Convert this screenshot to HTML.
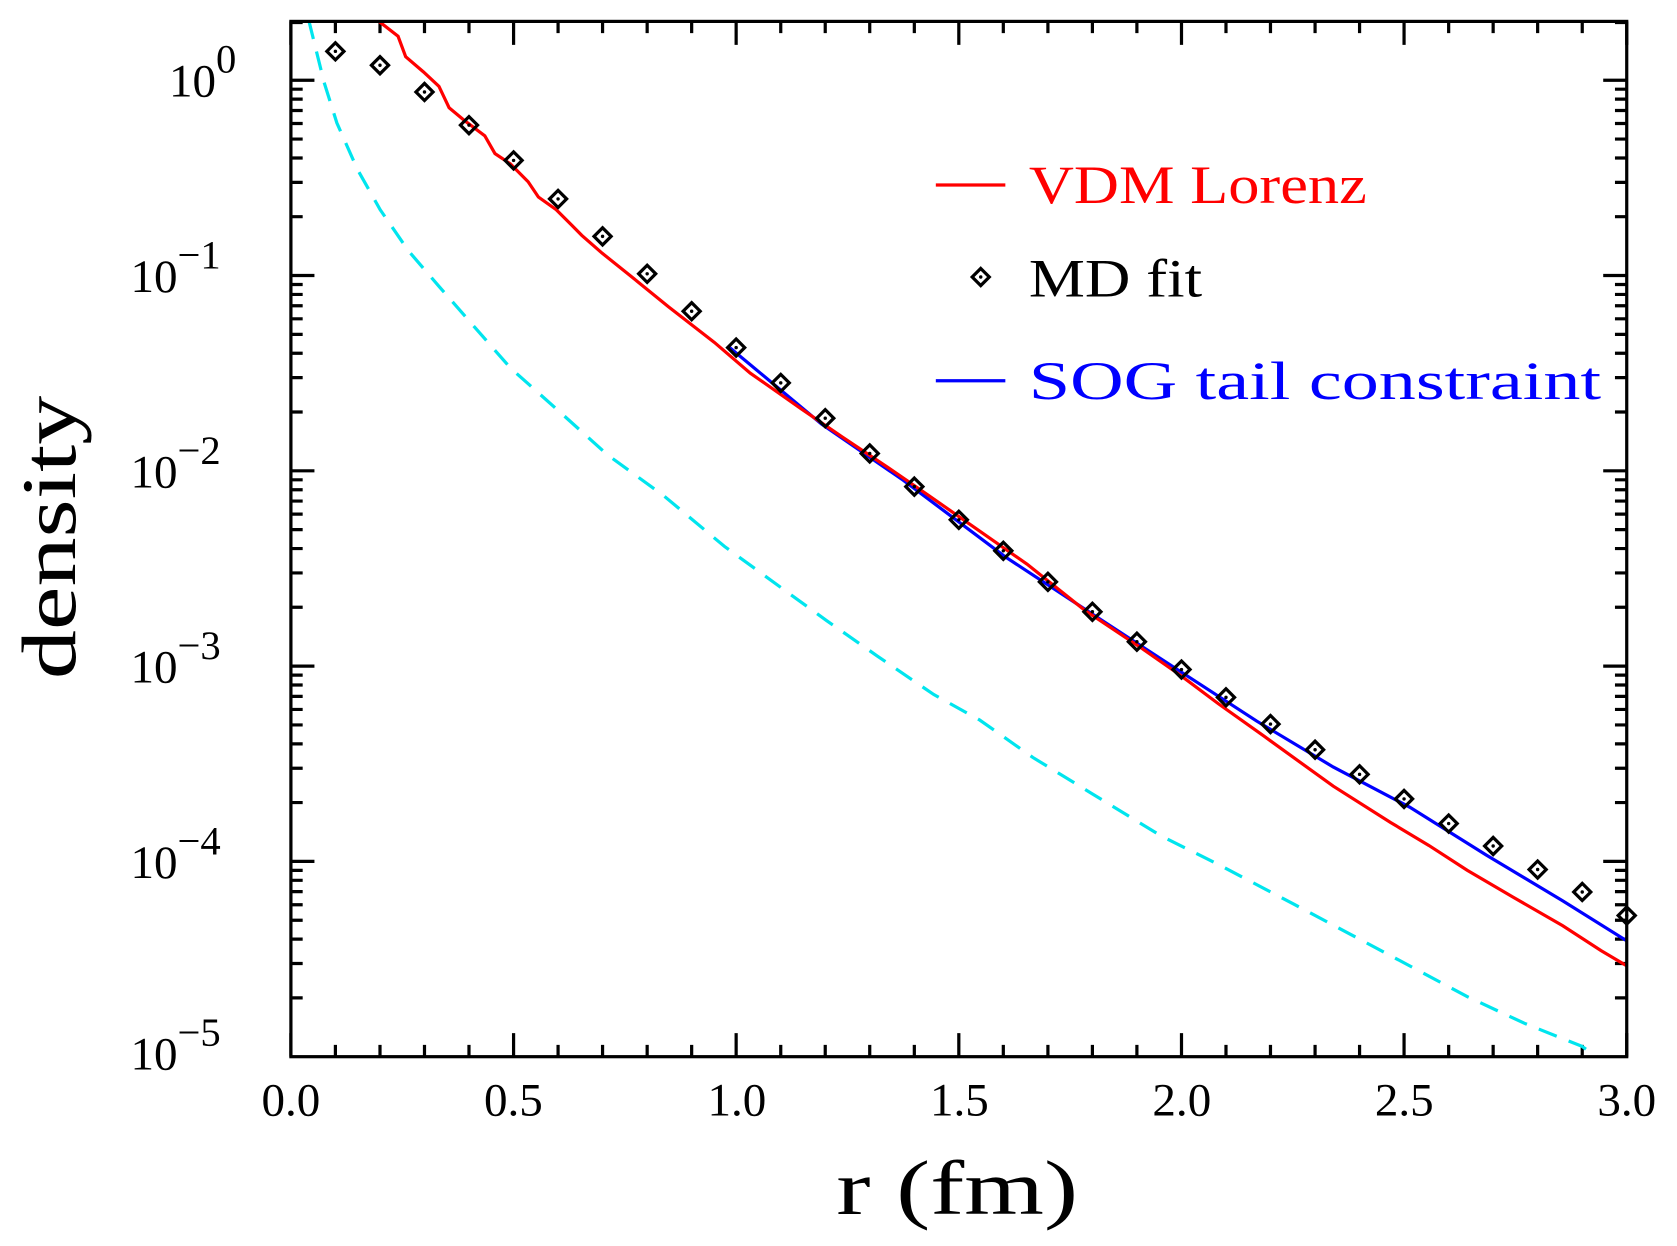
<!DOCTYPE html>
<html><head><style>html,body{margin:0;padding:0;background:#fff}svg{display:block}</style></head>
<body>
<svg width="1677" height="1246" viewBox="0 0 1568 1165" xmlns="http://www.w3.org/2000/svg" font-family="Liberation Serif, serif">
<defs>
<clipPath id="c"><rect x="272" y="20" width="1249" height="968"/></clipPath>
<g id="d"><path d="M0,-8 L8,0 L0,8 L-8,0Z" stroke="#000" stroke-width="3" fill="none"/><circle r="1.6" fill="#000"/></g>
</defs>
<path stroke="#000" stroke-width="3" fill="none" d="
M272,988v-22M313.6,988v-11M355.3,988v-11M396.9,988v-11M438.5,988v-11M480.2,988v-22M521.8,988v-11M563.4,988v-11M605.1,988v-11M646.7,988v-11M688.3,988v-22M730,988v-11M771.6,988v-11M813.2,988v-11M854.9,988v-11M896.5,988v-22M938.1,988v-11M979.8,988v-11M1021.4,988v-11M1063,988v-11M1104.7,988v-22M1146.3,988v-11M1187.9,988v-11M1229.6,988v-11M1271.2,988v-11M1312.8,988v-22M1354.5,988v-11M1396.1,988v-11M1437.7,988v-11M1479.4,988v-11M1521,988v-22
M272,20v22M313.6,20v11M355.3,20v11M396.9,20v11M438.5,20v11M480.2,20v22M521.8,20v11M563.4,20v11M605.1,20v11M646.7,20v11M688.3,20v22M730,20v11M771.6,20v11M813.2,20v11M854.9,20v11M896.5,20v22M938.1,20v11M979.8,20v11M1021.4,20v11M1063,20v11M1104.7,20v22M1146.3,20v11M1187.9,20v11M1229.6,20v11M1271.2,20v11M1312.8,20v22M1354.5,20v11M1396.1,20v11M1437.7,20v11M1479.4,20v11M1521,20v22
M272,805.4h22M272,622.8h22M272,440.2h22M272,257.6h22M272,75h22
M1521,805.4h-22M1521,622.8h-22M1521,440.2h-22M1521,257.6h-22M1521,75h-22
M272,933h11M272,900.9h11M272,878.1h11M272,860.4h11M272,845.9h11M272,833.7h11M272,823.1h11M272,813.8h11
M272,750.4h11M272,718.3h11M272,695.5h11M272,677.8h11M272,663.3h11M272,651.1h11M272,640.5h11M272,631.2h11
M272,567.8h11M272,535.7h11M272,512.9h11M272,495.2h11M272,480.7h11M272,468.5h11M272,457.9h11M272,448.6h11
M272,385.2h11M272,353.1h11M272,330.3h11M272,312.6h11M272,298.1h11M272,285.9h11M272,275.3h11M272,266h11
M272,202.6h11M272,170.5h11M272,147.7h11M272,130h11M272,115.5h11M272,103.3h11M272,92.7h11M272,83.4h11M272,21h11
M1521,933h-11M1521,900.9h-11M1521,878.1h-11M1521,860.4h-11M1521,845.9h-11M1521,833.7h-11M1521,823.1h-11M1521,813.8h-11
M1521,750.4h-11M1521,718.3h-11M1521,695.5h-11M1521,677.8h-11M1521,663.3h-11M1521,651.1h-11M1521,640.5h-11M1521,631.2h-11
M1521,567.8h-11M1521,535.7h-11M1521,512.9h-11M1521,495.2h-11M1521,480.7h-11M1521,468.5h-11M1521,457.9h-11M1521,448.6h-11
M1521,385.2h-11M1521,353.1h-11M1521,330.3h-11M1521,312.6h-11M1521,298.1h-11M1521,285.9h-11M1521,275.3h-11M1521,266h-11
M1521,202.6h-11M1521,170.5h-11M1521,147.7h-11M1521,130h-11M1521,115.5h-11M1521,103.3h-11M1521,92.7h-11M1521,83.4h-11M1521,21h-11"/>
<g clip-path="url(#c)" fill="none" stroke-width="3">
<polyline stroke="#00e5ee" stroke-dasharray="18,12" points="288.7,19 303,76.9 315,115 334,158 355.5,196.1 381.7,234.3 410.4,267.7 443.8,305.9 477.2,344 520.1,382.2 567.8,425.1 620.3,463.3 677.5,511 730,549.2 772.8,580.2 820.6,613.6 873.1,649.4 916,673.2 965.7,708.2 1021.1,742.1 1085.5,781.5 1139.2,808.3 1210.7,845.9 1264.4,874.5 1318.1,903.1 1371.8,931.8 1425.4,956.8 1479.1,978.3 1493.4,988.3"/>
<polyline stroke="#0000ff" points="682.3,325 768.2,396.5 844.5,449 939.9,520.6 1031.9,581.1 1103.4,627.7 1175,674.2 1246.5,717.1 1318.1,754.7 1389.6,799.4 1461.2,842.3 1521.3,879.9"/>
<polyline stroke="#ff0000" points="353.1,19 372.2,33.9 379.3,53 396,67.3 410.4,80.7 419.9,100.7 434.2,112.6 453.3,127 462.8,143.6 477.2,153.2 493.8,169.9 503.4,184.2 520.1,196.1 534.4,210.4 543.9,220 563,236.7 586.9,255.8 625,286.8 668,320.2 701.4,348.8 749.1,382.2 787.3,408.4 830.2,437.1 868.4,463.3 916.1,496.7 960.3,527.5 1014,570.4 1067.6,606.2 1103.4,631.2 1139.2,658 1182.1,688.5 1246.5,735 1300.2,769 1336,790.5 1371.8,813.7 1414.7,838.8 1461.2,865.6 1497,888.8 1521.3,903.2"/>
</g>
<use href="#d" x="313.6" y="48"/><use href="#d" x="355.3" y="61"/><use href="#d" x="396.9" y="86"/><use href="#d" x="438.5" y="117"/><use href="#d" x="480.2" y="150"/><use href="#d" x="521.8" y="186"/><use href="#d" x="563.4" y="221"/><use href="#d" x="605.1" y="256"/><use href="#d" x="646.7" y="291"/><use href="#d" x="688.3" y="325"/><use href="#d" x="730" y="358"/><use href="#d" x="771.6" y="391"/><use href="#d" x="813.2" y="424"/><use href="#d" x="854.9" y="455"/><use href="#d" x="896.5" y="486"/><use href="#d" x="938.1" y="515"/><use href="#d" x="979.8" y="544"/><use href="#d" x="1021.4" y="572"/><use href="#d" x="1063" y="600"/><use href="#d" x="1104.7" y="626"/><use href="#d" x="1146.3" y="652"/><use href="#d" x="1187.9" y="677"/><use href="#d" x="1229.6" y="701"/><use href="#d" x="1271.2" y="724"/><use href="#d" x="1312.8" y="747"/><use href="#d" x="1354.5" y="770"/><use href="#d" x="1396.1" y="791"/><use href="#d" x="1437.7" y="813"/><use href="#d" x="1479.4" y="834"/><use href="#d" x="1521" y="856"/>
<rect x="272" y="20" width="1249" height="968" fill="none" stroke="#000" stroke-width="3"/>
<g font-size="44" text-anchor="middle">
<text x="272" y="1043">0.0</text><text x="480" y="1043">0.5</text><text x="689" y="1043">1.0</text><text x="897" y="1043">1.5</text><text x="1105" y="1043">2.0</text><text x="1313" y="1043">2.5</text><text x="1521" y="1043">3.0</text>
</g>
<g font-size="44">
<text x="158" y="90">10<tspan dy="-22" font-size="38">0</tspan></text>
<text x="122" y="273">10<tspan dy="-22" font-size="38">−1</tspan></text>
<text x="122" y="456">10<tspan dy="-22" font-size="38">−2</tspan></text>
<text x="122" y="638">10<tspan dy="-22" font-size="38">−3</tspan></text>
<text x="122" y="821">10<tspan dy="-22" font-size="38">−4</tspan></text>
<text x="122" y="1000">10<tspan dy="-22" font-size="38">−5</tspan></text>
</g>
<text x="782" y="1135" font-size="72" textLength="226" lengthAdjust="spacingAndGlyphs">r (fm)</text>
<text transform="translate(70,635) rotate(-90)" font-size="72" textLength="265" lengthAdjust="spacingAndGlyphs">density</text>
<line x1="875" y1="173" x2="940" y2="173" stroke="#f00" stroke-width="3"/>
<text x="962" y="190" font-size="50" fill="#f00" textLength="316" lengthAdjust="spacingAndGlyphs">VDM Lorenz</text>
<use href="#d" x="917" y="259"/>
<text x="962" y="277" font-size="50" textLength="162" lengthAdjust="spacingAndGlyphs">MD fit</text>
<line x1="875" y1="356" x2="940" y2="356" stroke="#00f" stroke-width="3"/>
<text x="962" y="373" font-size="50" fill="#00f" textLength="535" lengthAdjust="spacingAndGlyphs">SOG tail constraint</text>
</svg>
</body></html>
